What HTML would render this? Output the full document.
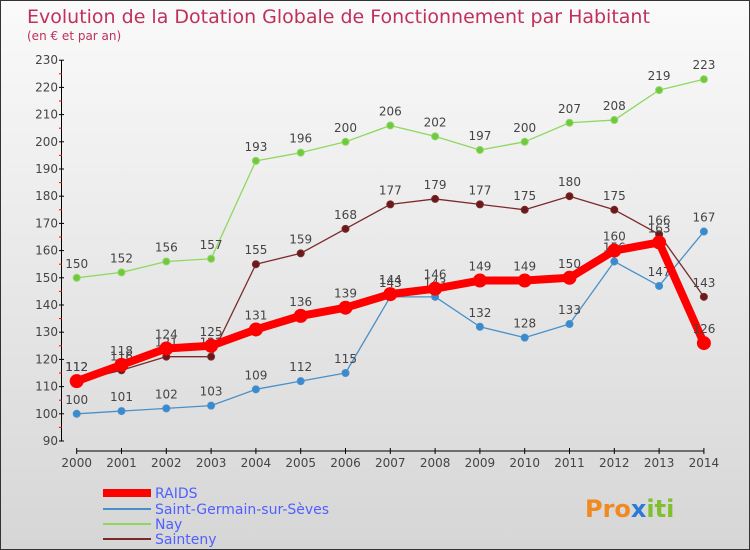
<!DOCTYPE html>
<html><head><meta charset="utf-8"><style>
body{margin:0;}
#wrap{position:relative;width:748px;height:548px;border:1px solid #333;background:linear-gradient(#fafafa,#d6d6d6);font-family:"DejaVu Sans","Liberation Sans",sans-serif;overflow:hidden}
</style></head><body>
<div id="wrap">
<svg id="svg" width="748" height="548" xmlns="http://www.w3.org/2000/svg">
<text x="26" y="22" font-size="19" fill="#c0305a">Evolution de la Dotation Globale de Fonctionnement par Habitant</text>
<text x="26" y="39" font-size="12" fill="#c0305a">(en € et par an)</text>
<g id="axes"></g><g id="series"></g>
<g font-size="14">
<line x1="102" y1="492" x2="150" y2="492" stroke="#f00" stroke-width="8"/>
<text x="154" y="497" fill="#5060ff">RAIDS</text>
<line x1="102" y1="508" x2="150" y2="508" stroke="#4a90c8" stroke-width="2"/>
<text x="154" y="513" fill="#5060ff">Saint-Germain-sur-Sèves</text>
<line x1="102" y1="523" x2="150" y2="523" stroke="#8fd860" stroke-width="2"/>
<text x="154" y="528" fill="#5060ff">Nay</text>
<line x1="102" y1="538" x2="150" y2="538" stroke="#7a2a2a" stroke-width="2"/>
<text x="154" y="543" fill="#5060ff">Sainteny</text>
</g>
<text x="584" y="516" font-size="24" font-weight="bold" fill="#f08a20">Pro<tspan fill="#2a7ad8">x</tspan><tspan fill="#80c030">iti</tspan></text>
</svg></div>
<script>
const years=[2000,2001,2002,2003,2004,2005,2006,2007,2008,2009,2010,2011,2012,2013,2014];
const yTicks=[90,100,110,120,130,140,150,160,170,180,190,200,210,220,230];
const raids=[112,118,124,125,131,136,139,144,146,149,149,150,160,163,126];
const sgs=[100,101,102,103,109,112,115,143,143,132,128,133,156,147,167];
const nay=[150,152,156,157,193,196,200,206,202,197,200,207,208,219,223];
const sainteny=[112,116,121,121,155,159,168,177,179,177,175,180,175,166,143];
const NS="http://www.w3.org/2000/svg";
function X(i){return 75.7+i*44.8;}
function Y(v){return 440-(v-90)*2.72;}
function mk(t,a,p){const e=document.createElementNS(NS,t);for(const k in a)e.setAttribute(k,a[k]);p.appendChild(e);return e;}
const ax=document.getElementById('axes');
let l=mk('line',{x1:60.5,y1:Y(230),x2:60.5,y2:Y(90),stroke:'#000'},ax);


l=mk('line',{x1:X(0),y1:450,x2:X(14),y2:450,stroke:'#000'},ax);


yTicks.forEach(v=>{
 mk('line',{x1:58,y1:Y(v),x2:63,y2:Y(v),stroke:'#000'},ax);
 if(v<230)mk('line',{x1:58,y1:Y(v+5),x2:61,y2:Y(v+5),stroke:'#f00'},ax);
 const t=mk('text',{x:57,y:Y(v)+4,'text-anchor':'end','font-size':12,fill:'#444'},ax);
 t.textContent=v;
 
 
});
years.forEach((y,i)=>{
 mk('line',{x1:X(i),y1:447,x2:X(i),y2:453,stroke:'#000'},ax);
 const t=mk('text',{x:X(i),y:466,'text-anchor':'middle','font-size':12,fill:'#444'},ax);
 t.textContent=y;
 
 
});
const sg=document.getElementById('series');
function series(data,color,w,r,name,dot){
 const g=mk('g',{},sg);
 
 
 const p=mk('polyline',{points:data.map((v,i)=>X(i)+','+Y(v)).join(' '),fill:'none',stroke:color,'stroke-width':w,'stroke-linejoin':'round'},g);
 
 
 data.forEach((v,i)=>{
  const c=mk('circle',{cx:X(i),cy:Y(v),r:r,fill:dot,stroke:color,'stroke-width':1},g);
  
  
  const t=mk('text',{x:X(i),y:Y(v)-10,'text-anchor':'middle','font-size':12,fill:'#444'},g);
  t.textContent=v;
  
  
 });
}
series(sgs,'#4a90c8',1.3,3.5,'saint-germain-series','#3a8ad0');
series(nay,'#8fd860',1.3,3.5,'nay-series','#70c840');
series(sainteny,'#7a2a2a',1.3,3.5,'sainteny-series','#6a1a1a');
series(raids,'#f00',8,6.5,'raids-series','#f00');
</script>
</body></html>
